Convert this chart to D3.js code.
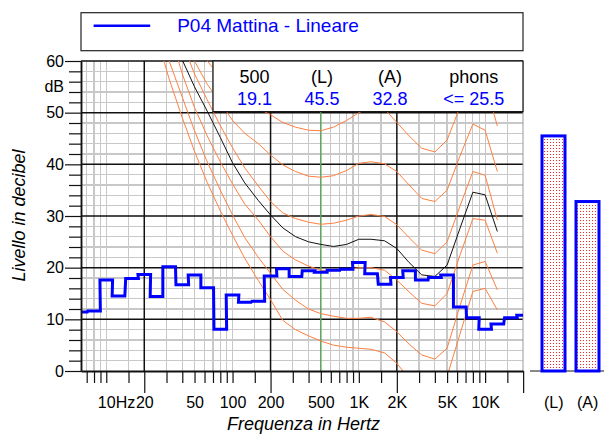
<!DOCTYPE html>
<html><head><meta charset="utf-8">
<script src="https://cdn.jsdelivr.net/npm/d3@7"></script>
<style>
body{margin:0;background:#fff;}
svg{display:block;font-family:"Liberation Sans",Arial,sans-serif;}
</style></head>
<body><svg id="c" width="604" height="436"></svg>
<script>
// ---------- data ----------
const bandCenters = [6.3,8,10,12.5,16,20,25,31.5,40,50,63,80,100,125,160,200,250,315,400,500,630,800,1000,1250,1600,2000,2500,3150,4000,5000,6300,8000,10000,12500,16000,20000];
const bandLevels  = [11.4,11.6,17.6,14.5,17.9,18.7,14.4,20.2,16.7,18.6,16.1,8.1,14.7,13.3,13.5,18.4,19.8,18.3,19.4,19.1,19.5,19.7,21.0,18.8,16.8,18.1,19.4,17.6,18.1,18.6,12.4,10.3,8.1,9.1,10.3,10.8];

const contourFreqs = [20,25,31.5,40,50,63,80,100,125,160,200,250,315,400,500,630,800,1000,1250,1600,2000,2500,3150,4000,5000,6300,8000,10000,12500];
const contourThreshold = [73,65,56.5,49,42.5,36.5,31,26.3,21.8,17.5,13.8,9.8,8.0,6.8,5.8,5.0,4.6,4.4,4.2,3.5,1.5,-1.5,-4.0,-4.5,-1.0,7.0,15.4,16.0,11.8];
const contour10 = [78,70,60,53,46.5,40.5,35,30.2,25.8,22,18.9,15.8,13.7,12,11.1,10.6,10.2,10.2,10.4,9.5,7.6,5.2,3.1,2.3,4.4,12.5,20.5,21.2,15.7];
const contour20 = [82,74,66,57.5,51,45.5,40.5,36.2,32.3,29.2,26,23.2,21.5,20.3,19.5,19.4,19.6,20.0,20.0,19.5,17.6,15.3,13.1,12.6,15.0,22.3,29.5,29.2,22.8];
const contour30 = [87,79,71,63.5,57.5,52.5,47.5,43.2,39.3,35.8,32.8,30.6,29.5,28.8,28.4,28.6,29.2,30.0,30.3,29.9,28.3,25.8,23.4,22.7,25.0,31.8,38.6,37.9,29.2];
const contour40 = [92,84,76,68,60,55.5,52,48.5,46,44,41.8,39.9,38.6,37.7,37.5,37.8,38.8,40.2,40.5,40.1,38.6,36.0,33.4,32.8,35.0,41.5,47.8,46.6,38.6];
const contour50 = [96,88,80,72,65,60,57,54.5,52.5,50.8,49.6,48.1,47.2,46.6,46.5,47.2,48.5,50,51,50.7,48.1,45.5,43.1,42.4,44.7,51,57,56,47.4];
const contourMeasured = [80,73,66,60.2,55,50.3,45.2,40.3,36.4,33.0,30.2,27.7,26.0,25.0,24.5,24.1,24.5,25.5,25.5,25.2,23.7,21.0,18.6,18.3,20.5,27.5,34.6,34.1,27.0];

const summaryHeaders = ["500","(L)","(A)","phons"];
const summaryValues  = ["19.1","45.5","32.8","<= 25.5"];
const barCategories = ["(L)","(A)"];
const barValues = [45.5, 32.8];

const yTicksMajor = [0,10,20,30,40,50,60];
const yTicksMinor = [2,4,6,8,12,14,16,18,22,24,26,28,32,34,36,38,42,44,46,48,52,54,56,58];
const xGridMinor = [7,8,9,10,15,30,40,50,60,70,80,90,100,150,300,400,500,600,700,800,900,1000,1500,3000,4000,5000,6000,7000,8000,9000,10000,15000];
const xGridMajor = [20,200,2000];
const xTickMajor = [20,200,2000,20000];
const xLabelValues = [10,20,50,100,200,500,1000,2000,5000,10000];
const xLabelTexts  = ["10","20","50","100","200","500","1K","2K","5K","10K"];
const legendLabel = "P04 Mattina - Lineare";

// ---------- layout ----------
const svg = d3.select("#c");
const L=81, R=523, T=61, B=371;
const x = d3.scaleLog().domain([Math.pow(10,0.8), Math.pow(10,4.3)]).range([L,R]);
const y = d3.scaleLinear().domain([0,60]).range([B,T]);

const defs = svg.append("defs");
defs.append("clipPath").attr("id","plotclip").append("rect")
  .attr("x",L).attr("y",T).attr("width",R-L).attr("height",B-T);
const pat = defs.append("pattern").attr("id","dots").attr("patternUnits","userSpaceOnUse")
  .attr("x",0).attr("y",0).attr("width",3).attr("height",3);
pat.append("rect").attr("width",3).attr("height",3).attr("fill","#ffffff");
pat.append("rect").attr("x",1).attr("y",1).attr("width",1).attr("height",1).attr("fill","#ff2020");

const gridMinor = svg.append("g").attr("shape-rendering","crispEdges");
gridMinor.selectAll(".hm").data(yTicksMinor).join("line")
  .attr("x1",L).attr("x2",R).attr("y1",d=>y(d)).attr("y2",d=>y(d))
  .attr("stroke","#c8c8c8").attr("stroke-width",1.2);
gridMinor.selectAll(".vm").data(xGridMinor).join("line")
  .attr("x1",d=>x(d)).attr("x2",d=>x(d)).attr("y1",T).attr("y2",B)
  .attr("stroke","#c8c8c8").attr("stroke-width",1.2);
const grid = svg.append("g");
grid.selectAll(".hM").data(yTicksMajor.filter(d=>d>0)).join("line")
  .attr("x1",L).attr("x2",R).attr("y1",d=>y(d)).attr("y2",d=>y(d))
  .attr("stroke","#111").attr("stroke-width",1.5);
grid.selectAll(".vM").data(xGridMajor).join("line")
  .attr("x1",d=>x(d)).attr("x2",d=>x(d)).attr("y1",T).attr("y2",B)
  .attr("stroke","#111").attr("stroke-width",1.5);
grid.append("line").attr("x1",R).attr("x2",R).attr("y1",T).attr("y2",B).attr("stroke","#999").attr("stroke-width",1);
grid.append("line").attr("x1",x(500)).attr("x2",x(500)).attr("y1",T).attr("y2",B)
  .attr("stroke","#5aa55a").attr("stroke-width",1.5);

// contours
const plot = svg.append("g").attr("clip-path","url(#plotclip)");
const line = d3.line().x(d=>x(d[0])).y(d=>y(d[1]));
[contourThreshold,contour10,contour20,contour30,contour40,contour50].forEach(c=>{
  plot.append("path").attr("d",line(contourFreqs.map((f,i)=>[f,c[i]])))
    .attr("fill","none").attr("stroke","#ff7f40").attr("stroke-width",1);
});
plot.append("path").attr("d",line(contourFreqs.map((f,i)=>[f,contourMeasured[i]])))
  .attr("fill","none").attr("stroke","#111").attr("stroke-width",1);

// step spectrum
const fmin = x.domain()[0], fmax = x.domain()[1];
const stepPts = [];
bandCenters.forEach((c,i)=>{
  const lo = Math.max(fmin, c*Math.pow(2,-1/6)), hi = Math.min(fmax, c*Math.pow(2,1/6));
  stepPts.push([lo,bandLevels[i]]); stepPts.push([hi,bandLevels[i]]);
});
plot.append("path").attr("d",line(stepPts)).attr("fill","none")
  .attr("stroke","#0000ff").attr("stroke-width",3).attr("stroke-linejoin","miter");

// summary box
const box = svg.append("g");
box.append("rect").attr("x",213).attr("y",T).attr("width",R-213).attr("height",y(50.2)-T)
  .attr("fill","#fff").attr("stroke","#111").attr("stroke-width",1.2);
const colX = [254.5,322,390,473.7];
box.selectAll(".hd").data(summaryHeaders).join("text")
  .attr("x",(d,i)=>colX[i]).attr("y",83).attr("text-anchor","middle")
  .attr("font-size",18).attr("fill","#000").text(d=>d);
box.selectAll(".vl").data(summaryValues).join("text")
  .attr("x",(d,i)=>colX[i]).attr("y",105).attr("text-anchor","middle")
  .attr("font-size",18).attr("fill","#0000ff").text(d=>d);

// y axis
const yMinor = d3.axisLeft(y).tickValues(yTicksMinor).tickSize(12).tickFormat("").tickSizeOuter(0);
const yMajor = d3.axisLeft(y).tickValues(yTicksMajor).tickSize(16).tickPadding(1).tickSizeOuter(0);
const gyMinor = svg.append("g").attr("transform",`translate(${L},0)`).call(yMinor);
const gy = svg.append("g").attr("transform",`translate(${L},0)`).call(yMajor);
[gyMinor,gy].forEach(g=>{g.select(".domain").attr("stroke","#111").attr("stroke-width",1.5);
  g.selectAll(".tick line").attr("stroke","#111").attr("stroke-width",1.2);});
gy.selectAll("text").attr("font-size",16).attr("font-family","Liberation Sans, Arial, sans-serif").attr("fill","#000");
svg.append("text").attr("x",64).attr("y",y(55)+5.5).attr("text-anchor","end").attr("font-size",16).text("dB");

// x axis
const xMinor = d3.axisBottom(x).tickValues(xGridMinor).tickSize(12).tickFormat("").tickSizeOuter(0);
const xMajor = d3.axisBottom(x).tickValues(xTickMajor).tickSize(22).tickFormat("").tickSizeOuter(0);
const xLab = d3.axisBottom(x).tickValues(xLabelValues).tickSize(0).tickPadding(25.6)
  .tickFormat((d,i)=>xLabelTexts[i]);
const gxm = svg.append("g").attr("transform",`translate(0,${B})`).call(xMinor);
const gxM = svg.append("g").attr("transform",`translate(0,${B})`).call(xMajor);
const gxl = svg.append("g").attr("transform",`translate(0,${B})`).call(xLab);
gxl.select(".domain").remove();
gxm.select(".domain").attr("stroke","#111").attr("stroke-width",2);
gxM.select(".domain").remove();
[gxm,gxM].forEach(g=>g.selectAll(".tick line").attr("stroke","#111").attr("stroke-width",1.2));
gxl.selectAll("text").attr("font-size",16).attr("font-family","Liberation Sans, Arial, sans-serif").attr("fill","#000");
gxl.selectAll(".tick").filter(d=>d===10).select("text")
  .attr("text-anchor","start").attr("x",-8.9).text("10Hz");

// axis titles
svg.append("text").attr("transform","translate(25,215.5) rotate(-90)").attr("text-anchor","middle")
  .attr("font-size",18).attr("font-style","italic").text("Livello in decibel");
svg.append("text").attr("x",303.5).attr("y",430).attr("text-anchor","middle")
  .attr("font-size",18).attr("font-style","italic").text("Frequenza in Hertz");

// legend
const lg = svg.append("g");
lg.append("rect").attr("x",L).attr("y",12.7).attr("width",R-L).attr("height",38)
  .attr("fill","#fff").attr("stroke","#222").attr("stroke-width",1.2);
lg.append("line").attr("x1",93.6).attr("x2",150.2).attr("y1",25.7).attr("y2",25.7)
  .attr("stroke","#0000ff").attr("stroke-width",2.5);
lg.append("text").attr("x",177.2).attr("y",31.5).attr("font-size",19).attr("fill","#0000ff").text(legendLabel);

// bars
const xb = d3.scalePoint().domain(barCategories).range([553.7,587.7]);
svg.append("line").attr("x1",530).attr("x2",604).attr("y1",B).attr("y2",B).attr("stroke","#888").attr("stroke-width",2);
svg.selectAll(".bar").data(barValues).join("rect")
  .attr("x",(d,i)=>Math.round(xb(barCategories[i])-11.5)).attr("width",23)
  .attr("y",d=>y(d)).attr("height",d=>B-y(d))
  .attr("fill","url(#dots)").attr("stroke","#0000ff").attr("stroke-width",3);
svg.selectAll(".barlab").data(barCategories).join("text")
  .attr("x",d=>xb(d)).attr("y",408).attr("text-anchor","middle").attr("font-size",16).text(d=>d);
</script></body></html>
